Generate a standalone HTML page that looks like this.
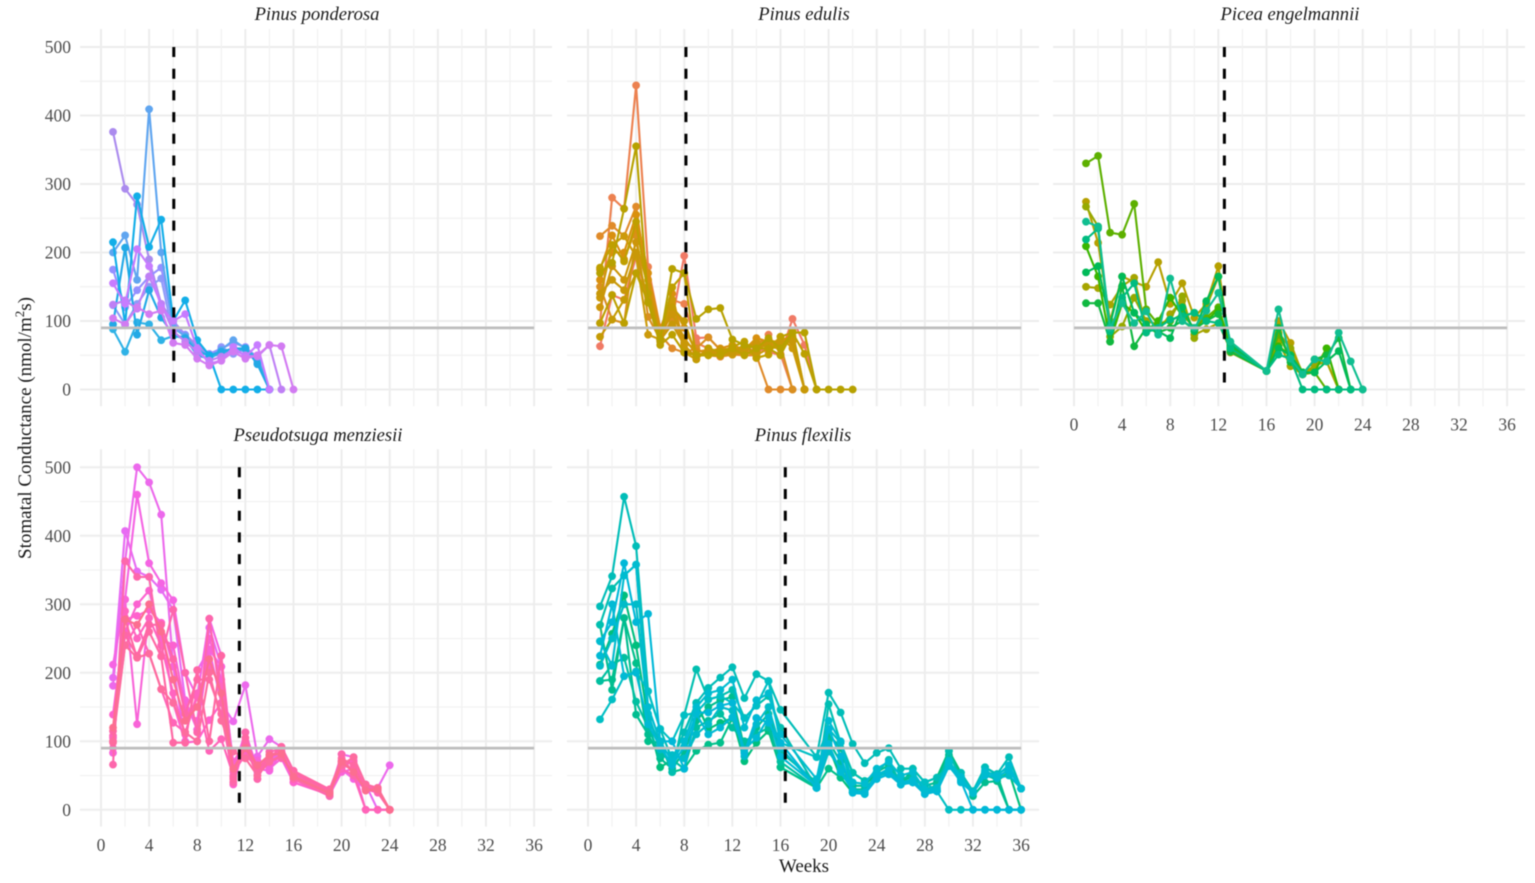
<!DOCTYPE html>
<html lang="en">
<head>
<meta charset="utf-8">
<title>Stomatal conductance by species</title>
<style>
html,body{margin:0;padding:0;background:#fff;}
body{width:1535px;height:883px;overflow:hidden;}
svg{display:block;filter:blur(0.45px);}
text{font-family:"Liberation Serif",serif;}
</style>
</head>
<body>
<svg id="chart" xmlns="http://www.w3.org/2000/svg" width="1535" height="883" viewBox="0 0 1535 883">
  <rect x="0" y="0" width="1535" height="883" fill="#ffffff"/>
  <g id="panels"></g>
  <g font-size="18.6" font-style="italic" fill="#1a1a1a" text-anchor="middle">
    <text x="317" y="20">Pinus ponderosa</text>
    <text x="804" y="20">Pinus edulis</text>
    <text x="1290" y="20">Picea engelmannii</text>
    <text x="318" y="441">Pseudotsuga menziesii</text>
    <text x="803" y="441">Pinus flexilis</text>
  </g>
  <text x="804" y="872" font-size="19" fill="#1a1a1a" text-anchor="middle">Weeks</text>
  <text transform="translate(31,428) rotate(-90)" font-size="19" fill="#1a1a1a" text-anchor="middle">Stomatal Conductance (nmol/m<tspan dy="-7" font-size="13">2</tspan><tspan dy="7">s)</tspan></text>
</svg>
<script>
const xTickLabels = [0,4,8,12,16,20,24,28,32,36];
const yTickLabels = [0,100,200,300,400,500];
const thresholdValue = 90;

const ponderosaWeeks = [1,2,3,4,5,6,7,8,9,10,11,12,13,14,15,16];
const ponderosaVline = 6.05;
const ponderosaA = [376,293,270,190,125,100,80,65,50,50,58,60,48,0];
const ponderosaB = [200,225,160,409,200,90,78,60,48,58,72,60,40,0];
const ponderosaC = [215,95,282,208,248,100,130,72,50,0,0,0,0,0];
const ponderosaD = [95,207,80,145,105,80,75,55,50,55,60,60,37,0];
const ponderosaE = [88,55,98,95,72,78,75,50,45,55,55,60,45,0];
const ponderosaF = [155,125,205,180,120,100,110,60,38,42,62,48,65,0];
const ponderosaG = [104,95,120,110,115,68,65,45,35,42,55,45,50,65,63,0];
const ponderosaH = [124,130,118,165,125,85,70,55,42,48,58,50,48,65,0];
const ponderosaI = [175,120,145,165,178,95,80,58,52,60,68,62,46,0];
const ponderosaJ = [123,95,125,150,162,80,75,50,46,62,52,58,42,0];
const ponderosaSeries = [ponderosaA,ponderosaJ,ponderosaI,ponderosaB,ponderosaE,ponderosaD,ponderosaC,ponderosaH,ponderosaF,ponderosaG];
const ponderosaColors = ["#AB8BEE","#8E9BF8","#9590FF","#5FA5F0","#2FB2E6","#22A9E6","#12AEE8","#BF80F5","#C77CFF","#D27BF2"];

const edulisWeeks = [1,2,3,4,5,6,7,8,9,10,11,12,13,14,15,16,17,18,19,20,21,22];
const edulisVline = 8.14;
const edulisA = [63,138,131,194,127,73,102,195,75,76,58,60,55,60,55,50,103,65,0];
const edulisB = [97,280,264,444,179,90,131,125,68,60,48,51,60,46,80,52,0];
const edulisC = [224,239,224,267,150,80,60,54,60,50,48,51,50,50,0,0,0];
const edulisD = [178,211,187,245,140,75,149,170,44,60,55,62,70,46,51,77,83,0];
const edulisE = [170,185,264,355,127,73,176,170,103,117,119,73,65,60,75,60,83,83,0,0,0,0];
const edulisF = [150,102,97,225,106,73,102,68,60,76,58,51,60,70,70,65,0];
const edulisG = [134,211,224,194,80,73,131,54,44,60,50,51,55,50,60,77,60,0];
const edulisH = [97,138,97,170,127,65,80,54,50,50,50,60,50,60,60,50,83,52,0];
const edulisI = [77,102,131,170,140,70,120,100,50,50,52,55,65,65,62,60,75,0];
const edulisJ = [175,225,190,235,160,85,140,60,48,55,60,65,58,75,70,70,70,0];
const edulisK = [160,200,200,255,170,90,125,90,55,58,55,58,62,62,68,72,78,0];
const edulisL = [120,180,160,215,150,80,110,75,52,52,58,60,55,68,65,62,85,0];
const edulisM = [140,160,145,200,130,72,95,65,46,55,50,54,60,55,72,68,70,0];
const edulisSeries = [edulisA,edulisB,edulisC,edulisF,edulisJ,edulisK,edulisG,edulisI,edulisL,edulisD,edulisM,edulisH,edulisE];
const edulisColors = ["#F07A66","#EC8150","#E08B2A","#D98F20","#D8900F","#D9900E","#CC9A0A","#C59B05","#CC960A","#BF9F00","#C89808","#BCA000","#B7A100"];

const engelmanniiWeeks = [1,2,3,4,5,6,7,8,9,10,11,12,13,16,17,18,19,20,21,22,23,24];
const engelmanniiVline = 12.5;
const engelmanniiA = [330,341,229,226,271,117,95,100,110,90,105,120,65,27,80,45,22,25,0];
const engelmanniiB = [274,214,100,165,157,150,186,125,155,105,125,180,54,27,100,68,22,44,41,0];
const engelmanniiC = [267,238,77,92,134,100,95,102,136,75,120,165,60,27,83,60,25,30,60,0];
const engelmanniiD = [209,165,70,126,112,85,100,134,107,112,100,117,62,27,63,50,25,25,60,0];
const engelmanniiE = [150,148,124,151,163,90,85,110,130,80,88,97,58,27,70,34,22,35,41,0];
const engelmanniiF = [245,238,90,126,97,114,80,162,100,90,115,141,70,27,117,45,22,44,41,83,41,0];
const engelmanniiG = [219,235,85,134,155,83,90,102,107,112,100,97,60,27,51,45,0,0,0,0,0,0];
const engelmanniiH = [171,180,95,165,112,95,85,75,120,85,129,165,66,27,60,50,25,25,41,56,0];
const engelmanniiI = [126,126,70,151,63,90,83,90,100,88,100,110,55,27,90,40,22,44,50,75,0];
const engelmanniiSeries = [engelmanniiB,engelmanniiE,engelmanniiC,engelmanniiA,engelmanniiD,engelmanniiI,engelmanniiH,engelmanniiG,engelmanniiF];
const engelmanniiColors = ["#B5A000","#A6A500","#96A900","#5DB000","#39B600","#10B840","#00BA58","#00BC80","#10BE90"];

const menziesiiWeeks = [1,2,3,4,5,6,7,8,9,10,11,12,13,14,15,16,19,20,21,22,23,24];
const menziesiiVline = 11.5;
const menziesiiA = [181,363,500,478,431,209,100,204,234,156,129,182,78,103,92,57,25,81,77,37,32,65];
const menziesiiB = [212,307,460,360,331,306,200,165,279,225,59,113,60,57,85,50,25,59,45,30,32,0];
const menziesiiC = [193,407,348,340,321,292,160,117,266,209,69,88,55,75,80,45,20,65,60,37,0,0];
const menziesiiD = [139,278,283,292,273,156,98,100,131,156,37,100,45,80,85,40,22,70,70,30,25,0];
const menziesiiE = [108,240,270,228,176,127,113,165,86,103,50,95,65,70,78,50,25,60,50,0,0,0];
const menziesiiF = [98,278,222,260,224,98,98,204,100,225,45,105,60,75,92,57,30,75,65,30,32,0];
const menziesiiG = [83,307,125,292,273,209,160,117,234,209,59,88,72,60,75,40,22,55,60,0,0,0];
const menziesiiH = [66,363,340,340,224,292,200,113,279,156,40,113,45,85,88,45,20,81,50,32,28,0];
const menziesiiI = [100,240,222,228,176,156,113,100,200,130,85,75,50,70,80,50,25,65,77,37,32,0];
const menziesiiJ = [120,278,270,300,260,190,130,150,220,170,60,90,65,80,82,48,24,70,55,28,30,0];
const menziesiiK = [105,260,300,320,250,240,150,130,250,190,70,98,58,68,78,52,28,72,68,35,30,0];
const menziesiiL = [90,290,250,280,240,170,110,170,210,180,55,80,62,76,84,46,23,62,72,33,28,0];
const menziesiiM = [115,255,225,270,270,220,140,190,190,140,48,92,50,72,76,55,26,68,58,30,26,0];
const menziesiiSeries = [menziesiiC,menziesiiA,menziesiiB,menziesiiG,menziesiiK,menziesiiD,menziesiiE,menziesiiL,menziesiiH,menziesiiM,menziesiiF,menziesiiI,menziesiiJ];
const menziesiiColors = ["#E76BF3","#EC69EC","#F564E3","#F864D8","#FB62D0","#FF61CC","#FF64B8","#FF64C0","#FD67AC","#FE66A8","#FF67A4","#FD6C9E","#FC6E90"];

const flexilisWeeks = [1,2,3,4,5,6,7,8,9,10,11,12,13,14,15,16,19,20,21,22,23,24,25,26,27,28,29,30,31,32,33,34,35,36];
const flexilisVline = 16.4;
const flexilisA = [297,341,457,385,173,118,73,113,156,178,193,208,163,198,188,146,77,171,142,96,68,83,90,60,60,40,47,64,54,27,62,52,77,31];
const flexilisB = [270,323,342,358,132,98,55,138,205,161,166,175,134,152,166,120,32,154,98,54,42,54,73,37,40,23,27,86,42,27,54,52,62,31];
const flexilisC = [246,274,360,274,286,100,100,60,142,142,152,156,83,134,127,98,32,118,78,25,23,45,52,37,40,23,27,64,42,0,0,0,0,0];
const flexilisD = [212,257,313,240,132,62,73,113,156,118,127,134,71,98,115,62,32,93,47,25,23,54,52,37,60,40,47,86,54,27,54,42,55,0];
const flexilisE = [188,190,280,214,100,98,55,60,86,95,98,134,83,134,127,62,32,60,47,54,42,45,52,37,40,23,27,64,42,27,62,52,0,0];
const flexilisF = [132,161,195,202,173,118,100,138,142,161,166,156,134,152,188,98,77,118,98,25,23,54,52,37,40,40,27,0,0,0,0,0,0,0];
const flexilisG = [188,212,222,158,120,80,73,60,120,130,140,120,100,110,120,70,32,100,70,30,30,50,60,45,50,30,35,70,45,27,50,45,60,31];
const flexilisH = [270,175,280,139,110,75,60,85,130,150,160,165,90,120,140,85,40,110,90,35,35,55,65,42,48,35,40,80,50,20,40,42,0,0];
const flexilisI = [246,210,342,358,150,100,70,100,150,170,175,190,120,160,170,110,45,130,100,40,38,60,70,50,55,30,32,70,48,25,55,50,65,31];
const flexilisJ = [210,250,300,300,140,88,80,75,110,125,150,145,78,125,150,90,33,85,60,28,26,48,56,40,44,26,28,72,44,24,58,46,50,31];
const flexilisK = [225,300,195,200,125,92,65,92,140,110,120,135,88,105,135,78,35,96,55,28,25,52,58,40,42,28,30,66,40,25,50,48,58,31];
const flexilisSeries = [flexilisD,flexilisE,flexilisH,flexilisG,flexilisB,flexilisA,flexilisF,flexilisJ,flexilisC,flexilisK,flexilisI];
const flexilisColors = ["#00BF7D","#00C08B","#00BD90","#00BFA0","#00BFB0","#00BDB8","#00BFC4","#00BCC8","#00B8D8","#00BAD4","#00BCD0"];

const panelWeeks = [ponderosaWeeks,edulisWeeks,engelmanniiWeeks,menziesiiWeeks,flexilisWeeks];
const panelVlines = [ponderosaVline,edulisVline,engelmanniiVline,menziesiiVline,flexilisVline];
const panelSeries = [ponderosaSeries,edulisSeries,engelmanniiSeries,menziesiiSeries,flexilisSeries];
const panelColors = [ponderosaColors,edulisColors,engelmanniiColors,menziesiiColors,flexilisColors];
const panelIds = ["ponderosa","edulis","engelmannii","menziesii","flexilis"];

const X_ZERO = [101,588,1074,101,588];
const Y_ZERO = [389.5,389.5,389.5,809.8,809.8];
const SHOW_X_LABELS = [false,false,true,true,true];
const SHOW_Y_LABELS = [true,false,false,true,false];
const X_PX = 12.03;
const Y_PX = 0.685;
const NS = "http://www.w3.org/2000/svg";

function xScale(panel, week){ return X_ZERO[panel] + week * X_PX; }
function yScale(panel, value){ return Y_ZERO[panel] - value * Y_PX; }

function svgEl(tag, parent){
  const el = document.createElementNS(NS, tag);
  parent.appendChild(el);
  return el;
}
function gridLine(parent, x1, y1, x2, y2, width, color){
  const l = svgEl("line", parent);
  l.setAttribute("x1", x1);
  l.setAttribute("y1", y1);
  l.setAttribute("x2", x2);
  l.setAttribute("y2", y2);
  l.setAttribute("stroke", color);
  l.setAttribute("stroke-width", width);
  
  
}

const root = document.getElementById("panels");
panelSeries.forEach(function(seriesList, p){
  const g = svgEl("g", root);
  
  
  const left = xScale(p, 0) - 21;
  const right = xScale(p, 36) + 18;
  const top = Y_ZERO[p] - 360.5;
  const bottom = Y_ZERO[p] + 16.8;

  for (let v = 0; v <= 500; v += 50) {
    gridLine(g, left, yScale(p, v), right, yScale(p, v), v % 100 === 0 ? 2 : 1.2, v % 100 === 0 ? "#ededed" : "#f1f1f1");
  }
  for (let w = 0; w <= 36; w += 2) {
    gridLine(g, xScale(p, w), top, xScale(p, w), bottom, w % 4 === 0 ? 2 : 1.2, w % 4 === 0 ? "#ededed" : "#f1f1f1");
  }

  const weeks = panelWeeks[p];
  seriesList.forEach(function(values, s){
    const sg = svgEl("g", g);
    
    
    const color = panelColors[p][s];
    const pts = values.map(function(v, i){
      return xScale(p, weeks[i]).toFixed(1) + "," + yScale(p, v).toFixed(1);
    });
    const line = svgEl("polyline", sg);
    line.setAttribute("points", pts.join(" "));
    line.setAttribute("fill", "none");
    line.setAttribute("stroke", color);
    line.setAttribute("stroke-width", "2.1");
    
    
    values.forEach(function(v, i){
      const c = svgEl("circle", sg);
      c.setAttribute("cx", xScale(p, weeks[i]).toFixed(1));
      c.setAttribute("cy", yScale(p, v).toFixed(1));
      c.setAttribute("r", "3.9");
      c.setAttribute("fill", color);
      
      
    });
  });

  const h = svgEl("line", g);
  h.setAttribute("x1", xScale(p, 0));
  h.setAttribute("x2", xScale(p, 36));
  h.setAttribute("y1", yScale(p, thresholdValue));
  h.setAttribute("y2", yScale(p, thresholdValue));
  h.setAttribute("stroke", "#bebebe");
  h.setAttribute("stroke-width", "2.8");
  
  

  const d = svgEl("line", g);
  d.setAttribute("x1", xScale(p, panelVlines[p]));
  d.setAttribute("x2", xScale(p, panelVlines[p]));
  d.setAttribute("y1", yScale(p, 500));
  d.setAttribute("y2", yScale(p, 0));
  d.setAttribute("stroke", "#000000");
  d.setAttribute("stroke-width", "3");
  d.setAttribute("stroke-dasharray", "10 11.7");
  
  

  if (SHOW_X_LABELS[p]) {
    xTickLabels.forEach(function(w){
      const t = svgEl("text", g);
      t.setAttribute("x", xScale(p, w));
      t.setAttribute("y", Y_ZERO[p] + 41);
      t.setAttribute("font-size", "17.5");
      t.setAttribute("fill", "#4d4d4d");
      t.setAttribute("text-anchor", "middle");
      
      
      t.textContent = String(w);
    });
  }
  if (SHOW_Y_LABELS[p]) {
    yTickLabels.forEach(function(v){
      const t = svgEl("text", g);
      t.setAttribute("x", 71);
      t.setAttribute("y", yScale(p, v) + 6);
      t.setAttribute("font-size", "17.5");
      t.setAttribute("fill", "#4d4d4d");
      t.setAttribute("text-anchor", "end");
      
      
      t.textContent = String(v);
    });
  }
});
</script>
</body>
</html>
